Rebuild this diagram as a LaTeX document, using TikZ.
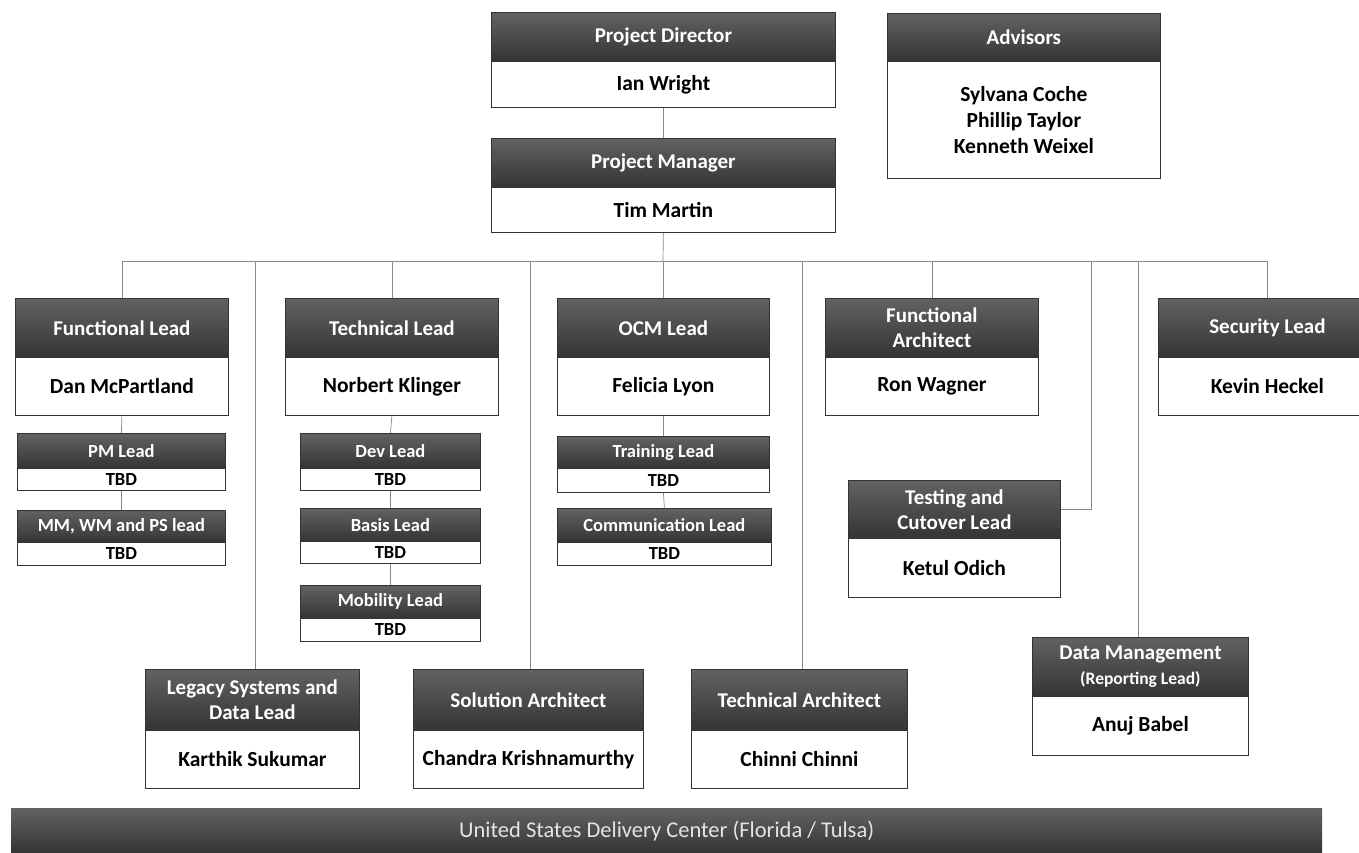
\documentclass[tikz,border=0pt]{standalone}
\usepackage{fontspec}
\setmainfont{Carlito}
\definecolor{hdrtop}{HTML}{626262}
\definecolor{hdrbot}{HTML}{343434}
\definecolor{edgec}{HTML}{333333}
\definecolor{linkc}{HTML}{8A8A8A}
\definecolor{bartext}{HTML}{E4E4E4}
\tikzset{
  hdr/.style={draw=edgec, line width=0.8pt, top color=hdrtop, bottom color=hdrbot,
    text=white, font=\bfseries\fontsize{21}{25}\selectfont, align=center, inner sep=0pt},
  bodyb/.style={draw=edgec, line width=0.8pt, fill=white, text=black,
    font=\bfseries\fontsize{21.5}{26}\selectfont, align=center, inner sep=0pt},
  smallbox/.style={font=\bfseries\fontsize{18.5}{20}\selectfont},
  conn/.style={draw=linkc, line width=0.7pt},
  barstyle/.style={top color=hdrtop, bottom color=hdrbot, draw=none, text=bartext,
    font=\fontsize{22.5}{26}\selectfont, inner sep=0pt},
}
% #1 style, #2 name, #3 x1, #4 x2, #5 header top, #6 header bottom, #7 bottom, #8 header, #9 body
\newcommand{\orgbox}[9][]{%
  \node[hdr, #1, minimum width={(#4-#3)*1pt}, minimum height={(#6-#5)*1pt}, anchor=north west]
    (#2h) at (#3,#5) {#8};
  \node[bodyb, #1, minimum width={(#4-#3)*1pt}, minimum height={(#7-#6)*1pt}, anchor=north west]
    (#2b) at (#3,#6) {#9};
}
\begin{document}
\begin{tikzpicture}[x=1pt,y=-1pt]
\useasboundingbox (0,0) rectangle (1359,853);
\clip (0,0) rectangle (1359,853);
\fill[white] (0,0) rectangle (1359,853);

% top
\orgbox{pd}{491}{835}{12}{61}{107}{Project Director}{Ian Wright}
\orgbox{pm}{491}{835}{138}{187}{232}{Project Manager}{Tim Martin}
\orgbox{adv}{887}{1160}{13}{61}{178}{Advisors}{Sylvana Coche\\Phillip Taylor\\Kenneth Weixel}

% row 1
\orgbox{fl}{15}{228}{298}{357}{415}{Functional Lead}{Dan McPartland}
\orgbox{tl}{285}{498}{298}{357}{415}{Technical Lead}{Norbert Klinger}
\orgbox{ocm}{557}{769}{298}{357}{415}{OCM Lead}{Felicia Lyon}
\orgbox{fa}{825}{1038}{298}{357}{415}{Functional\\Architect}{Ron Wagner}
\orgbox{sec}{1158}{1376}{298}{357}{415}{Security Lead}{Kevin Heckel}

% small boxes
\orgbox[smallbox]{pml}{17}{225}{433}{468}{490}{PM Lead}{TBD}
\orgbox[smallbox]{mm}{17}{225}{510}{542}{565}{MM, WM and PS lead}{TBD}
\orgbox[smallbox]{dev}{300}{480}{433}{468}{490}{Dev Lead}{TBD}
\orgbox[smallbox]{bas}{300}{480}{508}{541}{563}{Basis Lead}{TBD}
\orgbox[smallbox]{mob}{300}{480}{585}{618}{641}{Mobility Lead}{TBD}
\orgbox[smallbox]{trn}{557}{769}{436}{468}{492}{Training Lead}{TBD}
\orgbox[smallbox]{com}{557}{771}{508}{542}{565}{Communication Lead}{TBD}

% lower boxes
\orgbox{tc}{848}{1060}{480}{538}{597}{Testing and\\Cutover Lead}{Ketul Odich}
\orgbox{dm}{1032}{1248}{637}{696}{755}{Data Management\\{\fontsize{17.5}{19}\selectfont (Reporting Lead)}}{Anuj Babel}
\orgbox{leg}{145}{359}{669}{730}{788}{Legacy Systems and\\Data Lead}{Karthik Sukumar}
\orgbox{sol}{413}{643}{669}{730}{788}{Solution Architect}{Chandra Krishnamurthy}
\orgbox{ta}{691}{907}{669}{730}{788}{Technical Architect}{Chinni Chinni}

% bottom bar
\node[barstyle, minimum width=1311pt, minimum height=45pt, anchor=north west] (usdc) at (11,808)
  {United States Delivery Center (Florida / Tulsa)};

% connectors
\coordinate (bus) at (663,261);
\coordinate (dFL) at (flh.north |- bus);
\coordinate (dSEC) at (sech.north |- bus);
\coordinate (dLEG) at (255,261);
\coordinate (dTL) at (tlh.north |- bus);
\coordinate (dSOL) at (530,261);
\coordinate (dOCM) at (ocmh.north |- bus);
\coordinate (dTA) at (802,261);
\coordinate (dFA) at (fah.north |- bus);
\coordinate (dTC) at (1091,261);
\coordinate (dDM) at (1138,261);
\coordinate (lLEG) at (255,669);
\coordinate (lSOL) at (530,669);
\coordinate (lTA) at (802,669);
\coordinate (lDM) at (1138,637);

\draw[conn] (pdb.south) -- (pmh.north);
\draw[conn] (pmb.south) -- (bus);
\draw[conn] (dFL) -- (dSEC);
\draw[conn] (dFL) -- (flh.north);
\draw[conn] (dLEG) -- (lLEG);
\draw[conn] (dTL) -- (tlh.north);
\draw[conn] (dSOL) -- (lSOL);
\draw[conn] (dOCM) -- (ocmh.north);
\draw[conn] (dTA) -- (lTA);
\draw[conn] (dFA) -- (fah.north);
\draw[conn] (dTC) |- (tch.east);
\draw[conn] (dDM) -- (lDM);
\draw[conn] (dSEC) -- (sech.north);

\draw[conn] (flb.south) -- (pmlh.north);
\draw[conn] (pmlb.south) -- (mmh.north);
\draw[conn] (tlb.south) -- (devh.north);
\draw[conn] (devb.south) -- (bash.north);
\draw[conn] (basb.south) -- (mobh.north);
\draw[conn] (ocmb.south) -- (trnh.north);
\draw[conn] (trnb.south) -- (comh.north);
\end{tikzpicture}
\end{document}
